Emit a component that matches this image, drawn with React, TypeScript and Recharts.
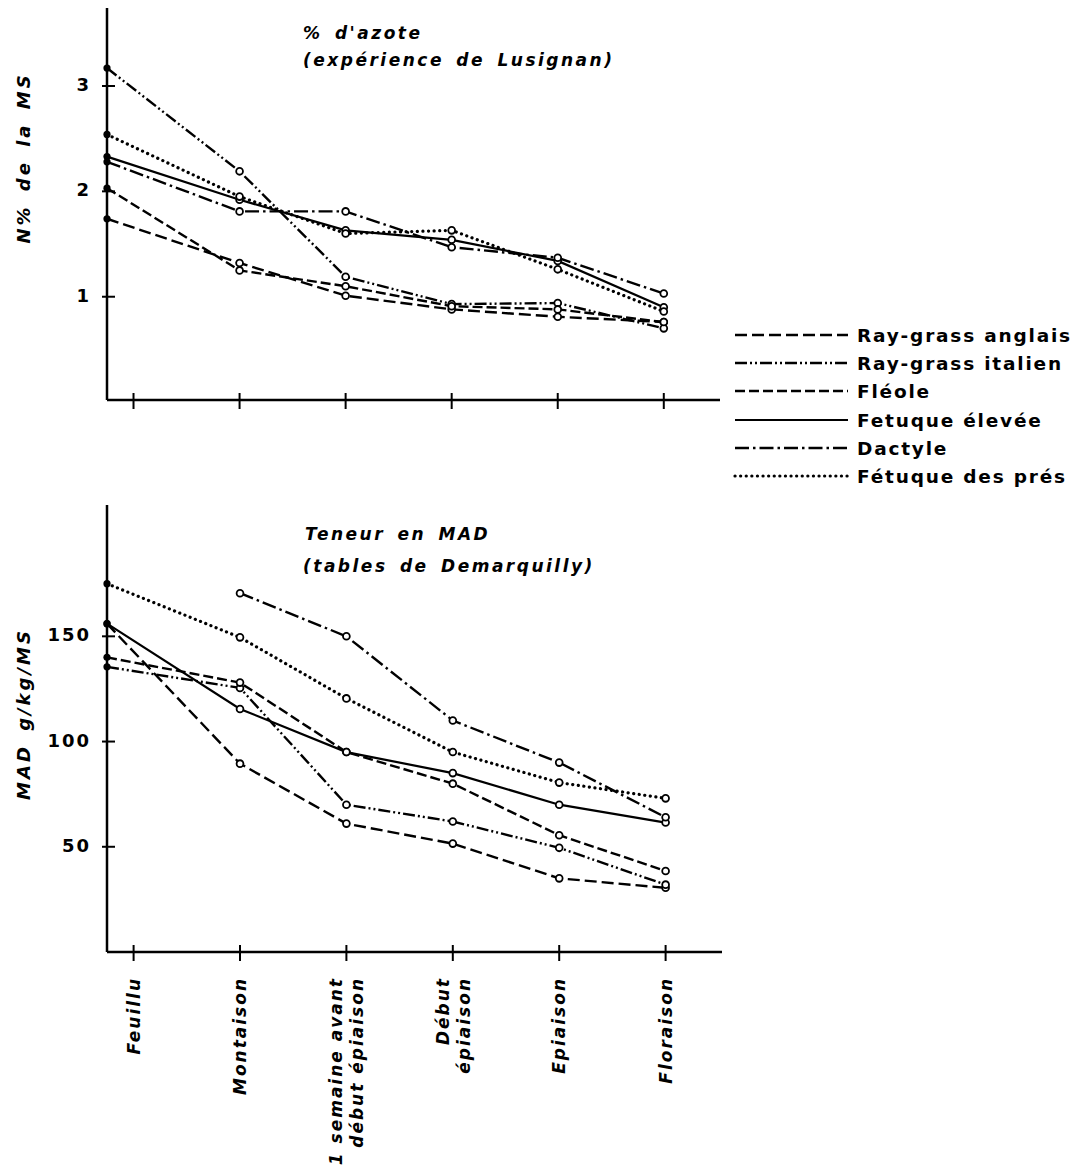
import React from 'react';
import { LineChart, Line, XAxis, YAxis } from 'recharts';

// stages (x axis); "|" splits a label on two lines
const stages = ['Feuillu', 'Montaison', '1 semaine avant|début épiaison', 'Début|épiaison', 'Epiaison', 'Floraison'];
// Feuillu points were drawn on the y axis, the tick sits a bit to the right
const stagePoints = [0, 1.25, 2.25, 3.25, 4.25, 5.25];
const stageTicks = [0.25, 1.25, 2.25, 3.25, 4.25, 5.25];

const seriesNames = ['Ray-grass anglais', 'Ray-grass italien', 'Fléole', 'Fetuque élevée', 'Dactyle', 'Fétuque des prés'];

// % d'azote (expérience de Lusignan)
const azoteRGA = [1.74, 1.32, 1.01, 0.88, 0.81, 0.76];
const azoteRGI = [3.17, 2.19, 1.19, 0.93, 0.94, 0.7];
const azoteFleole = [2.03, 1.25, 1.1, 0.91, 0.88, 0.76];
const azoteFetElevee = [2.33, 1.92, 1.63, 1.54, 1.34, 0.9];
const azoteDactyle = [2.28, 1.81, 1.81, 1.47, 1.37, 1.03];
const azoteFetPres = [2.54, 1.95, 1.6, 1.63, 1.26, 0.86];
const azoteTicks = [1, 2, 3];

// Teneur en MAD (tables de Demarquilly)
const madRGA = [156, 89.5, 61, 51.5, 35, 30.5];
const madRGI = [135.5, 125.5, 70, 62, 49.5, 32];
const madFleole = [140, 128, 95, 80, 55.5, 38.5];
const madFetElevee = [156, 115.5, 95, 85, 70, 61.5];
const madDactyle = [null, 170.5, 150, 110, 90, 64];
const madFetPres = [175, 149.5, 120.5, 95, 80.5, 73];
const madTicks = [50, 100, 150];

const FONT = '"DejaVu Sans", sans-serif';

// one line style per series, same order as seriesNames
const lineStyles = [
  { dash: '12 5', width: 2.4, cap: 'butt' },
  { dash: '12 3 2 3 2 3', width: 2.4, cap: 'butt' },
  { dash: '10 4', width: 2.4, cap: 'butt' },
  { dash: undefined, width: 2.2, cap: 'butt' },
  { dash: '14 4 2.5 4', width: 2.4, cap: 'butt' },
  { dash: '0.1 5.5', width: 3.2, cap: 'round' },
];

function buildRows(cols: (number | null)[][]) {
  return stagePoints.map((x, i) => {
    const row: any = { x };
    cols.forEach((c, k) => {
      row['s' + k] = c[i];
    });
    return row;
  });
}

const azoteData = buildRows([azoteRGA, azoteRGI, azoteFleole, azoteFetElevee, azoteDactyle, azoteFetPres]);
const madData = buildRows([madRGA, madRGI, madFleole, madFetElevee, madDactyle, madFetPres]);

const renderDot = (props: any) => {
  const { cx, cy, index, value, key } = props;
  if (cx == null || cy == null || value == null) return <g key={key} />;
  if (index === 0) return <circle key={key} cx={cx} cy={cy} r={3.6} fill="#000" />;
  return <circle key={key} cx={cx} cy={cy} r={3.4} fill="#fff" stroke="#000" strokeWidth={1.8} />;
};

const YTick = (props: any) => {
  const { x, y, payload } = props;
  return (
    <g>
      <line x1={x - 5} x2={x + 8} y1={y} y2={y} stroke="#000" strokeWidth={2} />
      <text x={x - 16} y={y + 5} textAnchor="end" fontFamily={FONT} fontWeight="bold" fontSize={18} letterSpacing={2} fill="#000">
        {payload.value}
      </text>
    </g>
  );
};

const XTickPlain = (props: any) => {
  const { x, y } = props;
  return <line x1={x} x2={x} y1={y - 7} y2={y + 9} stroke="#000" strokeWidth={2} />;
};

const XTickLabel = (props: any) => {
  const { x, y, index } = props;
  const lines = stages[index].split('|');
  const offsets = lines.length === 1 ? [6] : [-4, 17];
  return (
    <g>
      <line x1={x} x2={x} y1={y - 7} y2={y + 9} stroke="#000" strokeWidth={2} />
      <g transform={`translate(${x},${y}) rotate(-90)`}>
        {lines.map((l, i) => (
          <text key={i} x={-25} y={offsets[i]} textAnchor="end" fontFamily={FONT} fontStyle="italic" fontWeight="bold" fontSize={17} letterSpacing={2} fill="#000">
            {l}
          </text>
        ))}
      </g>
    </g>
  );
};

function seriesLines() {
  return seriesNames.map((name, k) => (
    <Line
      key={name}
      name={name}
      dataKey={'s' + k}
      type="linear"
      stroke="#000"
      strokeWidth={lineStyles[k].width}
      strokeDasharray={lineStyles[k].dash}
      strokeLinecap={lineStyles[k].cap as any}
      dot={renderDot}
      activeDot={false}
      isAnimationActive={false}
    />
  ));
}

export default function App() {
  const txt = { fontFamily: FONT, fontWeight: 'bold' as const, fill: '#000' };
  const rows = [335, 363, 391, 420, 448, 476];
  return (
    <div style={{ position: 'absolute', left: 0, top: 0, width: 1074, height: 1172, background: '#fff' }}>
      <div style={{ position: 'absolute', left: 0, top: 0 }}>
        <LineChart width={740} height={420} data={azoteData} margin={{ top: 8, right: 20, bottom: 0, left: 57 }}>
          <XAxis
            dataKey="x"
            type="number"
            domain={[0, 5.78]}
            ticks={stageTicks}
            interval={0}
            height={20}
            tickSize={0}
            tickMargin={0}
            tickLine={false}
            axisLine={{ stroke: '#000', strokeWidth: 2.5 }}
            tick={<XTickPlain />}
          />
          <YAxis
            type="number"
            domain={[0.02, 3.74]}
            ticks={azoteTicks}
            interval={0}
            width={50}
            tickSize={0}
            tickMargin={0}
            tickLine={false}
            axisLine={{ stroke: '#000', strokeWidth: 2.5 }}
            tick={<YTick />}
          />
          {seriesLines()}
        </LineChart>
      </div>
      <div style={{ position: 'absolute', left: 0, top: 490 }}>
        <LineChart width={740} height={682} data={madData} margin={{ top: 15, right: 18, bottom: 0, left: 57 }}>
          <XAxis
            dataKey="x"
            type="number"
            domain={[0, 5.78]}
            ticks={stageTicks}
            interval={0}
            height={220}
            tickSize={0}
            tickMargin={0}
            tickLine={false}
            axisLine={{ stroke: '#000', strokeWidth: 2.5 }}
            tick={<XTickLabel />}
          />
          <YAxis
            type="number"
            domain={[0, 212.4]}
            ticks={madTicks}
            interval={0}
            width={50}
            tickSize={0}
            tickMargin={0}
            tickLine={false}
            axisLine={{ stroke: '#000', strokeWidth: 2.5 }}
            tick={<YTick />}
          />
          {seriesLines()}
        </LineChart>
      </div>
      <svg width={1074} height={1172} style={{ position: 'absolute', left: 0, top: 0, pointerEvents: 'none' }}>
        <g {...txt} fontStyle="italic" fontSize={17} letterSpacing={2.5} wordSpacing={4}>
          <text x={303} y={39}>% d'azote</text>
          <text x={303} y={66}>(expérience de Lusignan)</text>
          <text x={305} y={540}>Teneur en MAD</text>
          <text x={303} y={572}>(tables de Demarquilly)</text>
        </g>
        <g {...txt} fontStyle="italic" fontSize={18} letterSpacing={3} wordSpacing={4} textAnchor="middle">
          <text transform="translate(30,158) rotate(-90)">N% de la MS</text>
          <text transform="translate(30,714) rotate(-90)">MAD g/kg/MS</text>
        </g>
        {seriesNames.map((name, k) => (
          <g key={name}>
            <line
              x1={735}
              x2={848}
              y1={rows[k]}
              y2={rows[k]}
              stroke="#000"
              strokeWidth={lineStyles[k].width}
              strokeDasharray={lineStyles[k].dash}
              strokeLinecap={lineStyles[k].cap as any}
            />
            <text x={857} y={rows[k] + 7} {...txt} fontSize={18.5} letterSpacing={1.8}>
              {name}
            </text>
          </g>
        ))}
      </svg>
    </div>
  );
}
